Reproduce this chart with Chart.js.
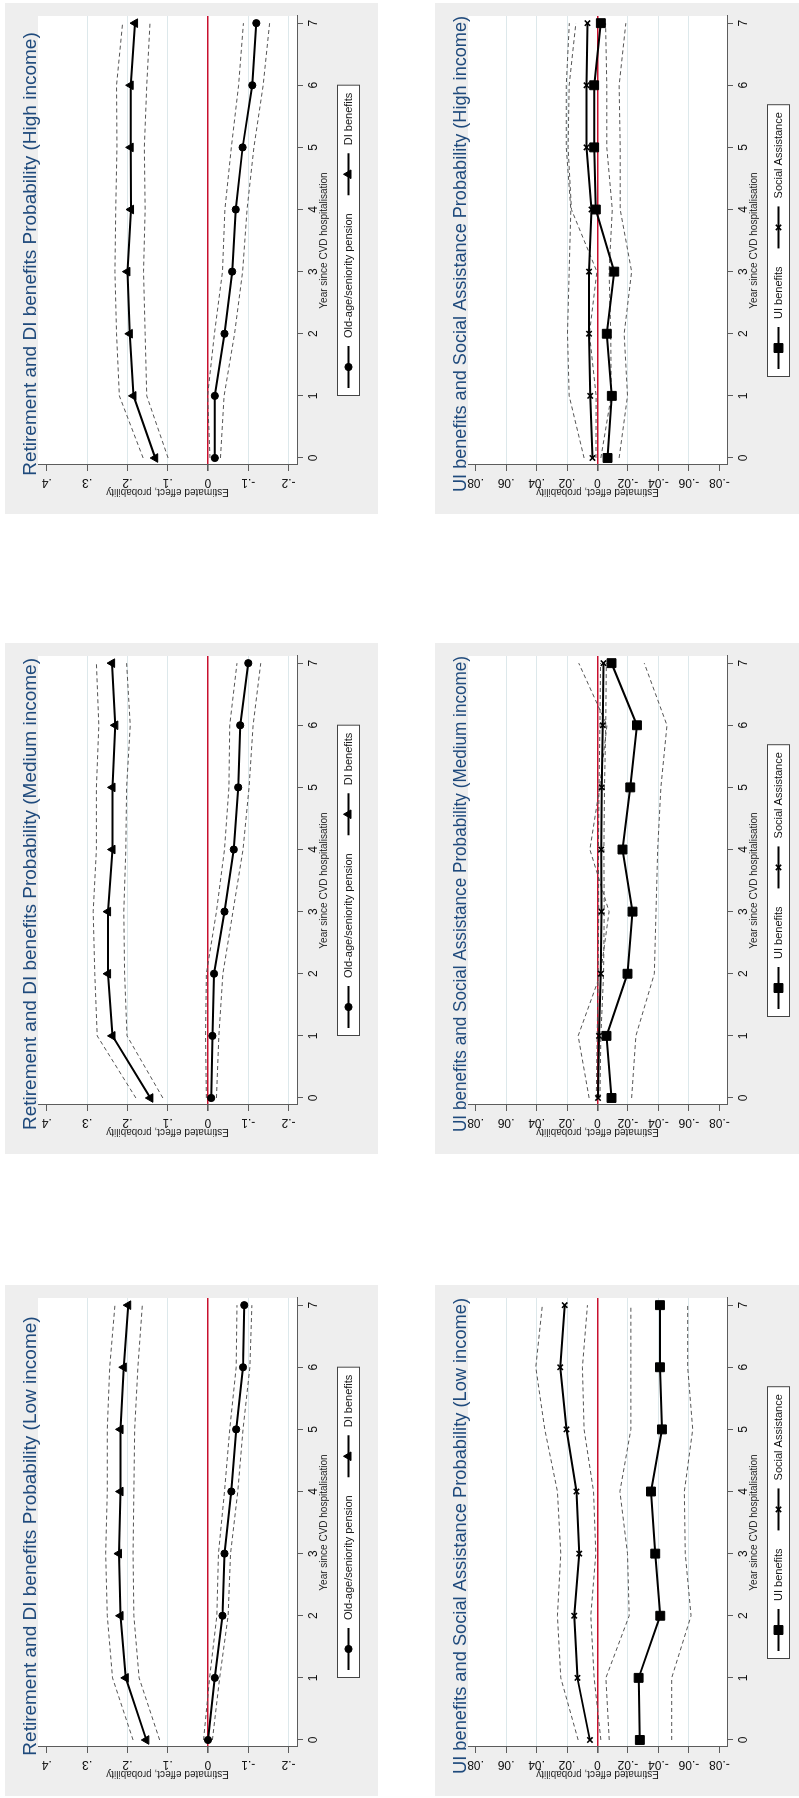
<!DOCTYPE html>
<html>
<head>
<meta charset="utf-8">
<script src="https://cdn.jsdelivr.net/npm/chart.js@4.4.1/dist/chart.umd.min.js"></script>
<style>
  html, body { margin: 0; padding: 0; background: #fff; width: 799px; height: 1798px; overflow: hidden; }
  /* the whole sheet is laid out upright, then turned a quarter turn to the left */
  #sheet { position: absolute; left: 0; top: 0; width: 1798px; height: 799px; overflow: hidden;
           transform-origin: 0 0; transform: translateY(1798px) rotate(-90deg); }
  .panel { position: absolute; width: 511px; height: 373px; background: #eeeeee; }
  .panel canvas { display: block; }
</style>
</head>
<body>
<div id="sheet">
  <div class="panel" style="left:2px;top:5px"><canvas id="retLow" width="511" height="373"></canvas></div>
  <div class="panel" style="left:644px;top:5px"><canvas id="retMed" width="511" height="373"></canvas></div>
  <div class="panel" style="left:1284px;top:5px"><canvas id="retHigh" width="511" height="373"></canvas></div>
  <div class="panel" style="left:2px;top:435px"><canvas id="uiLow" width="511" height="373"></canvas></div>
  <div class="panel" style="left:644px;top:435px"><canvas id="uiMed" width="511" height="373"></canvas></div>
  <div class="panel" style="left:1284px;top:435px"><canvas id="uiHigh" width="511" height="373"></canvas></div>
</div>
<script>
// ---- data ----
const years = [0, 1, 2, 3, 4, 5, 6, 7];

const retTickValues = [-0.2, -0.1, 0, 0.1, 0.2, 0.3, 0.4];
const retTickLabels = ['-.2', '-.1', '0', '.1', '.2', '.3', '.4'];
const uiTickValues = [-0.08, -0.06, -0.04, -0.02, 0, 0.02, 0.04, 0.06, 0.08];
const uiTickLabels = ['-.08', '-.06', '-.04', '-.02', '0', '.02', '.04', '.06', '.08'];

// Retirement and DI benefits
const pensionLow   = [0.000, -0.017, -0.036, -0.041, -0.058, -0.070, -0.087, -0.090];
const pensionLowHi = [0.011, -0.004, -0.022, -0.026, -0.041, -0.054, -0.070, -0.072];
const pensionLowLo = [-0.011, -0.029, -0.050, -0.056, -0.074, -0.087, -0.104, -0.109];
const diLow   = [0.153, 0.204, 0.217, 0.221, 0.217, 0.217, 0.209, 0.198];
const diLowHi = [0.186, 0.237, 0.250, 0.254, 0.250, 0.250, 0.244, 0.231];
const diLowLo = [0.120, 0.171, 0.184, 0.186, 0.184, 0.182, 0.174, 0.163];

const pensionMed   = [-0.008, -0.011, -0.015, -0.041, -0.064, -0.075, -0.080, -0.100];
const pensionMedHi = [0.004, 0.006, 0.004, -0.021, -0.041, -0.052, -0.054, -0.072];
const pensionMedLo = [-0.021, -0.027, -0.037, -0.062, -0.087, -0.102, -0.112, -0.131];
const diMed   = [0.143, 0.237, 0.248, 0.248, 0.237, 0.237, 0.230, 0.238];
const diMedHi = [0.179, 0.275, 0.281, 0.285, 0.277, 0.277, 0.271, 0.277];
const diMedLo = [0.112, 0.201, 0.207, 0.209, 0.204, 0.202, 0.193, 0.202];

const pensionHigh   = [-0.017, -0.017, -0.041, -0.060, -0.069, -0.086, -0.110, -0.120];
const pensionHighHi = [-0.005, 0.001, -0.016, -0.036, -0.042, -0.058, -0.076, -0.088];
const pensionHighLo = [-0.031, -0.040, -0.066, -0.086, -0.097, -0.114, -0.137, -0.153];
const diHigh   = [0.131, 0.185, 0.194, 0.200, 0.191, 0.192, 0.192, 0.181];
const diHighHi = [0.161, 0.220, 0.227, 0.231, 0.229, 0.226, 0.227, 0.212];
const diHighLo = [0.099, 0.152, 0.156, 0.160, 0.156, 0.158, 0.152, 0.144];

// UI benefits and Social Assistance
const uiLow   = [-0.0278, -0.0270, -0.0412, -0.0379, -0.0351, -0.0423, -0.0410, -0.0410];
const uiLowHi = [-0.0077, -0.0055, -0.0208, -0.0197, -0.0147, -0.0219, -0.0219, -0.0219];
const uiLowLo = [-0.0487, -0.0487, -0.0614, -0.0576, -0.0570, -0.0625, -0.0592, -0.0592];
const saLow   = [0.0050, 0.0132, 0.0153, 0.0120, 0.0138, 0.0204, 0.0245, 0.0215];
const saLowHi = [0.0127, 0.0241, 0.0263, 0.0241, 0.0263, 0.0346, 0.0405, 0.0362];
const saLowLo = [-0.0022, 0.0022, 0.0044, 0.0011, 0.0026, 0.0088, 0.0099, 0.0066];

const uiMed   = [-0.0092, -0.0059, -0.0197, -0.0230, -0.0164, -0.0215, -0.0259, -0.0092];
const uiMedHi = [0.0055, 0.0127, -0.0020, -0.0076, 0.0050, -0.0014, -0.0062, 0.0123];
const uiMedLo = [-0.0224, -0.0252, -0.0373, -0.0384, -0.0395, -0.0416, -0.0456, -0.0307];
const saMed   = [-0.0004, -0.0010, -0.0022, -0.0026, -0.0024, -0.0028, -0.0035, -0.0039];
const saMedHi = [0.0008, 0.0002, -0.0004, -0.0008, -0.0006, -0.0010, -0.0016, -0.0020];
const saMedLo = [-0.0016, -0.0022, -0.0040, -0.0044, -0.0042, -0.0046, -0.0054, -0.0058];

const uiHigh   = [-0.0066, -0.0094, -0.0061, -0.0110, 0.0011, 0.0022, 0.0022, -0.0022];
const uiHighHi = [0.0010, 0.0009, 0.0053, 0.0004, 0.0171, 0.0193, 0.0186, 0.0142];
const uiHighLo = [-0.0142, -0.0197, -0.0175, -0.0224, -0.0149, -0.0149, -0.0142, -0.0186];
const saHigh   = [0.0033, 0.0048, 0.0055, 0.0055, 0.0039, 0.0072, 0.0072, 0.0066];
const saHighHi = [0.0088, 0.0186, 0.0197, 0.0186, 0.0175, 0.0205, 0.0205, 0.0185];
const saHighLo = [-0.0022, -0.0090, -0.0087, -0.0076, -0.0097, -0.0061, -0.0061, -0.0053];

// ---- styling ----
const FONT = '"Liberation Sans", Arial, Helvetica, sans-serif';
const AXIS = '#5c5c5c';
const GRID = '#dde8eb';
const ZERO = '#c8102e';
const CI = '#555555';

const toPoints = vals => years.map((x, i) => ({ x: x, y: vals[i] }));

function mainLine(label, vals, pointStyle, radius) {
  return {
    label: label, data: toPoints(vals), inLegend: true,
    borderColor: '#000', backgroundColor: '#000', borderWidth: 2,
    pointStyle: pointStyle, pointRadius: radius, pointBorderWidth: pointStyle === 'crossRot' ? 1.6 : 1,
    pointBackgroundColor: '#000', pointBorderColor: '#000', tension: 0
  };
}

function ciLine(vals) {
  return {
    label: 'ci', data: toPoints(vals), inLegend: false,
    borderColor: CI, borderWidth: 1, borderDash: [4, 3], pointRadius: 0, tension: 0
  };
}

// white plot region on the grey graph region
const plotRegion = {
  id: 'plotRegion',
  beforeDraw(chart) {
    const { ctx, chartArea: a } = chart;
    ctx.save();
    ctx.fillStyle = '#ffffff';
    ctx.fillRect(a.left, a.top, a.right - a.left, a.bottom - a.top);
    ctx.restore();
  }
};

// Stata-style boxed legend: line sample with marker, then label
const boxLegend = {
  id: 'boxLegend',
  afterDraw(chart) {
    const { ctx, chartArea: a } = chart;
    const items = chart.data.datasets.filter(d => d.inLegend);
    ctx.save();
    ctx.font = '11px ' + FONT;
    const pad = 8, sample = 42, gap = 8, colGap = 18, top = 332, h = 23;
    const widths = items.map(d => ctx.measureText(d.label).width);
    const total = pad * 2 + items.length * (sample + gap) + colGap * (items.length - 1) +
      widths.reduce((s, w) => s + w, 0);
    const left = Math.round((a.left + a.right) / 2 - total / 2);
    ctx.fillStyle = '#fff';
    ctx.fillRect(left, top, total, h);
    ctx.strokeStyle = '#444';
    ctx.lineWidth = 1;
    ctx.strokeRect(left + 0.5, top + 0.5, total - 1, h - 1);
    const cy = top + h / 2;
    let x = left + pad;
    items.forEach((d, i) => {
      ctx.strokeStyle = '#000';
      ctx.lineWidth = 2;
      ctx.beginPath();
      ctx.moveTo(x, cy);
      ctx.lineTo(x + sample, cy);
      ctx.stroke();
      ctx.fillStyle = '#000';
      ctx.lineWidth = d.pointBorderWidth;
      Chart.helpers.drawPoint(ctx, { pointStyle: d.pointStyle, radius: d.pointRadius,
        borderWidth: d.pointBorderWidth, rotation: 0 }, x + sample / 2, cy);
      x += sample + gap;
      ctx.fillStyle = '#111';
      ctx.textBaseline = 'middle';
      ctx.textAlign = 'left';
      ctx.fillText(d.label, x, cy + 0.5);
      x += widths[i] + colGap;
    });
    ctx.restore();
  }
};

function makePanel(id, title, datasets, yMin, yMax, tickValues, tickLabels, labelPad, noGrid) {
  new Chart(document.getElementById(id), {
    type: 'line',
    data: { datasets: datasets },
    plugins: [plotRegion, boxLegend],
    options: {
      responsive: false, animation: false, devicePixelRatio: 1,
      layout: { padding: { left: 22, right: 13, top: 0, bottom: 0 } },
      plugins: {
        legend: { display: false },
        tooltip: { enabled: false },
        title: {
          display: true, text: title, color: '#1f4a7c', align: 'center', fullSize: true,
          font: { family: FONT, size: 19, weight: 'normal', lineHeight: 0 },
          padding: { top: 26, bottom: 7 }
        }
      },
      scales: {
        x: {
          type: 'linear', min: -0.113, max: 7.115,
          afterBuildTicks: s => { s.ticks = years.map(v => ({ value: v })); },
          afterFit: s => { s.height = 81; },
          grid: { drawOnChartArea: false, drawTicks: true, tickLength: 6, color: AXIS, tickColor: AXIS },
          border: { display: true, color: AXIS, width: 1 },
          ticks: { autoSkip: false, minRotation: 0, maxRotation: 0, padding: 3, color: '#111',
                   font: { family: FONT, size: 12 }, callback: v => String(v) },
          title: { display: true, text: 'Year since CVD hospitalisation', color: '#222',
                   font: { family: FONT, size: 10 }, padding: { top: 0, bottom: 48 } }
        },
        y: {
          type: 'linear', min: yMin, max: yMax,
          afterBuildTicks: s => { s.ticks = tickValues.map(v => ({ value: v })); },
          afterFit: s => { s.width = 27; },
          grid: {
            drawTicks: true, tickLength: 6, tickColor: AXIS,
            color: c => c.tick.value === 0 ? ZERO : (noGrid.includes(c.tick.value) ? 'rgba(0,0,0,0)' : GRID),
            lineWidth: c => c.tick.value === 0 ? 1.6 : 1
          },
          border: { display: true, color: AXIS, width: 1 },
          ticks: { autoSkip: false, minRotation: 90, maxRotation: 90, crossAlign: 'center', padding: labelPad,
                   color: '#111', font: { family: FONT, size: 12 },
                   callback: v => tickLabels[tickValues.indexOf(v)] },
          title: { display: true, text: 'Estimated effect, probability', color: '#222',
                   font: { family: FONT, size: 10, lineHeight: 0 }, padding: 0 }
        }
      }
    }
  });
}

const retTitle = 'Retirement and DI benefits Probability ';
const uiTitle = 'UI benefits and Social Assistance Probability ';

function retSets(p, pHi, pLo, d, dHi, dLo) {
  return [
    mainLine('Old-age/seniority pension', p, 'circle', 3.6),
    mainLine('DI benefits', d, 'triangle', 5),
    ciLine(pHi), ciLine(pLo), ciLine(dHi), ciLine(dLo)
  ];
}
function uiSets(u, uHi, uLo, s, sHi, sLo) {
  return [
    mainLine('UI benefits', u, 'rect', 6.3),
    mainLine('Social Assistance', s, 'crossRot', 3.8),
    ciLine(uHi), ciLine(uLo), ciLine(sHi), ciLine(sLo)
  ];
}

makePanel('retLow', retTitle + '(Low income)',
  retSets(pensionLow, pensionLowHi, pensionLowLo, diLow, diLowHi, diLowLo),
  -0.221, 0.422, retTickValues, retTickLabels, 4.5, [0.4]);
makePanel('retMed', retTitle + '(Medium income)',
  retSets(pensionMed, pensionMedHi, pensionMedLo, diMed, diMedHi, diMedLo),
  -0.221, 0.422, retTickValues, retTickLabels, 4.5, [0.4]);
makePanel('retHigh', retTitle + '(High income)',
  retSets(pensionHigh, pensionHighHi, pensionHighLo, diHigh, diHighHi, diHighLo),
  -0.221, 0.422, retTickValues, retTickLabels, 4.5, [0.4]);

makePanel('uiLow', uiTitle + '(Low income)',
  uiSets(uiLow, uiLowHi, uiLowLo, saLow, saLowHi, saLowLo),
  -0.085, 0.085, uiTickValues, uiTickLabels, 1, [0.08, -0.08]);
makePanel('uiMed', uiTitle + '(Medium income)',
  uiSets(uiMed, uiMedHi, uiMedLo, saMed, saMedHi, saMedLo),
  -0.085, 0.085, uiTickValues, uiTickLabels, 1, [0.08, -0.08]);
makePanel('uiHigh', uiTitle + '(High income)',
  uiSets(uiHigh, uiHighHi, uiHighLo, saHigh, saHighHi, saHighLo),
  -0.085, 0.085, uiTickValues, uiTickLabels, 1, [0.08, -0.08]);
</script>
</body>
</html>
